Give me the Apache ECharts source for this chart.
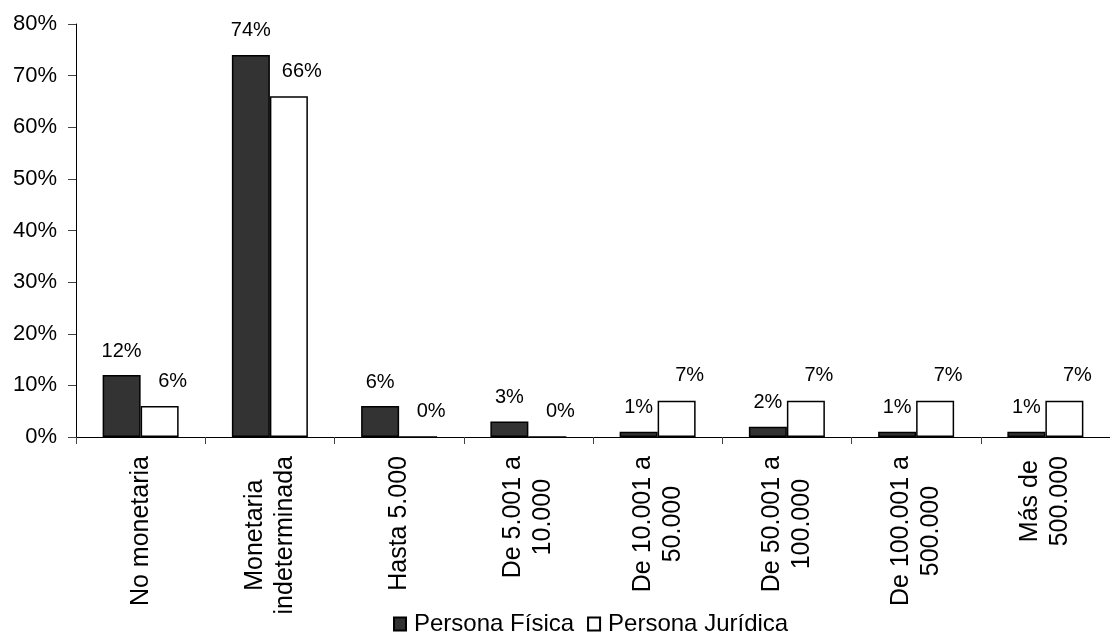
<!DOCTYPE html>
<html>
<head>
<meta charset="utf-8">
<script src="https://cdn.jsdelivr.net/npm/echarts@6/dist/echarts.min.js"></script>
<style>
html,body{margin:0;padding:0;background:#fff;}
#chart{width:1110px;height:632px;}
</style>
</head>
<body>
<div id="chart"></div>
<script>
var categories = ['No monetaria', 'Monetaria\nindeterminada', 'Hasta 5.000', 'De 5.001 a\n10.000', 'De 10.001 a\n50.000', 'De 50.001 a\n100.000', 'De 100.001 a\n500.000', 'Más de\n500.000'];
var personaFisica = [12, 74, 6, 3, 1, 2, 1, 1];
var personaJuridica = [6, 66, 0, 0, 7, 7, 7, 7];
var seriesNames = ['Persona Física', 'Persona Jurídica'];

var FONT = 'Liberation Sans, Arial, sans-serif';
var chart = echarts.init(document.getElementById('chart'), null, {renderer: 'canvas'});
chart.setOption({
  animation: false,
  backgroundColor: '#ffffff',
  grid: {left: 76, right: -10, top: 24, bottom: 195, containLabel: false},
  legend: {
    data: seriesNames,
    left: 388,
    top: 607,
    icon: 'rect',
    itemWidth: 12,
    itemHeight: 13,
    itemGap: 13,
    textStyle: {fontFamily: FONT, fontSize: 24, color: '#000', padding: [0, 0, 0, 3]}
  },
  xAxis: {
    type: 'category',
    data: categories,
    axisLine: {lineStyle: {color: '#000', width: 1}},
    axisTick: {show: true, length: 7, lineStyle: {color: '#444'}},
    axisLabel: {
      rotate: 90,
      margin: 19,
      interval: 0,
      color: '#000',
      fontFamily: FONT,
      fontSize: 25,
      formatter: function (v) {
        return v.split('\n').map(function (s) { return '{c|' + s + '}'; }).join('\n');
      },
      rich: {c: {fontFamily: FONT, fontSize: 25, lineHeight: 30, align: 'center', color: '#000'}}
    }
  },
  yAxis: {
    type: 'value',
    min: 0,
    max: 80,
    interval: 10,
    axisLine: {show: true, lineStyle: {color: '#000', width: 1}},
    axisTick: {show: true, length: 8, lineStyle: {color: '#444'}},
    splitLine: {show: false},
    axisLabel: {formatter: '{value}%', color: '#000', fontFamily: FONT, fontSize: 22, margin: 19}
  },
  series: [
    {
      name: seriesNames[0],
      type: 'bar',
      data: personaFisica,
      barWidth: 38,
      barGap: '0%',
      itemStyle: {color: '#333333', borderColor: '#000', borderWidth: 1.5},
      label: {show: true, position: 'top', distance: 14, formatter: '{c}%', color: '#000', fontFamily: FONT, fontSize: 20}
    },
    {
      name: seriesNames[1],
      type: 'bar',
      data: personaJuridica,
      barWidth: 38,
      barGap: '0%',
      itemStyle: {color: '#ffffff', borderColor: '#000', borderWidth: 1.5},
      label: {show: true, position: 'top', distance: 15, offset: [13, 0], formatter: '{c}%', color: '#000', fontFamily: FONT, fontSize: 20}
    }
  ]
});
</script>
</body>
</html>
